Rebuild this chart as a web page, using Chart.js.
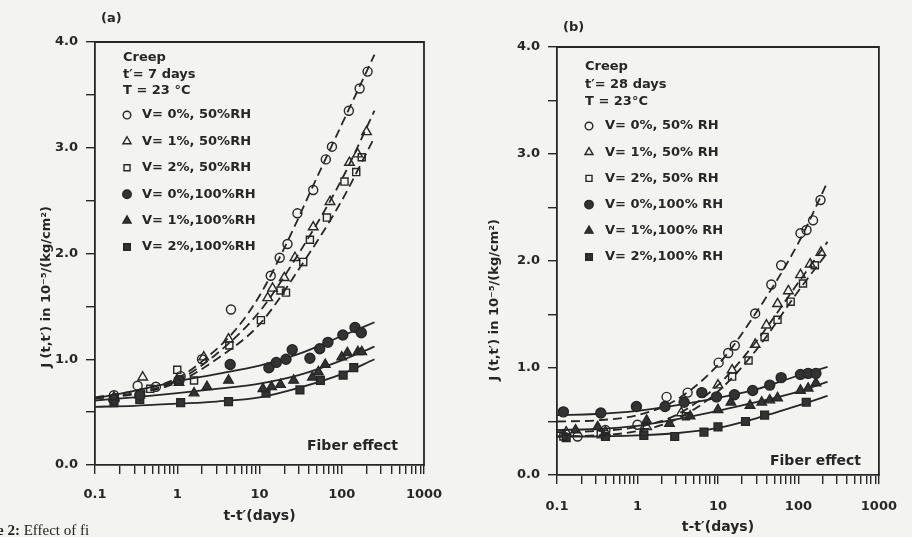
<!DOCTYPE html>
<html><head><meta charset="utf-8">
<script src="https://cdn.jsdelivr.net/npm/chart.js@4.4.1/dist/chart.umd.min.js"></script>
<style>
html,body{margin:0;padding:0;background:#f3f3f1;}
#wrap{position:relative;width:912px;height:537px;overflow:hidden;}
canvas{position:absolute;top:0;}
#ca{left:0}
#cb{left:456px}
.cap{position:absolute;left:-3px;top:522px;font:15px "Liberation Serif",serif;color:#222;white-space:nowrap}
</style></head><body>
<div id="wrap">
<canvas id="ca" width="456" height="537"></canvas>
<canvas id="cb" width="456" height="537"></canvas>
<div class="cap"><b>e 2:</b> Effect of fi</div>
</div>
<script>
// ---------- axis ticks ----------
const tickDecades = [0.1, 1, 10, 100, 1000];
const xTickLabels = ['0.1', '1', '10', '100', '1000'];
const xMinorMultipliers = [1, 2, 3, 4, 5, 6, 7, 8, 9];
const yTickLabels = ['0.0', '1.0', '2.0', '3.0', '4.0'];

// ---------- series labels ----------
const labelsA = ['V= 0%, 50%RH', 'V= 1%, 50%RH', 'V= 2%, 50%RH', 'V= 0%,100%RH', 'V= 1%,100%RH', 'V= 2%,100%RH'];
const labelsB = ['V= 0%, 50% RH', 'V= 1%, 50% RH', 'V= 2%, 50% RH', 'V= 0%,100% RH', 'V= 1%,100% RH', 'V= 2%,100% RH'];
const headerA = ['Creep', 't\u2032= 7 days', 'T = 23 \u00B0C'];
const headerB = ['Creep', 't\u2032= 28 days', 'T = 23\u00B0C'];

// ---------- panel (a): measured points [t-t' (days), J] ----------
const a_V0_50 = [[0.17,0.66],[0.33,0.75],[0.55,0.74],[1.1,0.84],[2.0,1.0],[4.5,1.47],[13.7,1.79],[17.6,1.96],[21.9,2.09],[28.9,2.38],[45,2.60],[64,2.89],[76,3.01],[122,3.35],[165,3.56],[206,3.72]];
const a_V1_50 = [[0.17,0.64],[0.38,0.83],[1.0,0.80],[2.1,1.02],[4.2,1.19],[12.6,1.58],[14.4,1.67],[20,1.77],[27,1.96],[45,2.25],[72,2.49],[124,2.86],[156,2.94],[200,3.15]];
const a_V2_50 = [[0.47,0.72],[1.0,0.90],[1.6,0.80],[4.3,1.13],[10.4,1.37],[18,1.65],[21,1.63],[34,1.92],[41,2.13],[66,2.34],[108,2.68],[150,2.77],[175,2.91]];
const a_V0_100 = [[0.17,0.62],[0.35,0.66],[1.05,0.80],[4.4,0.95],[13,0.92],[16,0.97],[21,1.00],[25,1.09],[41,1.01],[54,1.10],[68,1.16],[103,1.23],[145,1.30],[173,1.25]];
const a_V1_100 = [[0.17,0.63],[0.35,0.66],[1.05,0.78],[1.6,0.68],[2.3,0.74],[4.2,0.80],[11,0.72],[14,0.74],[18,0.76],[26,0.80],[44,0.83],[52,0.88],[63,0.95],[100,1.02],[117,1.06],[157,1.07],[175,1.07]];
const a_V2_100 = [[0.17,0.59],[0.35,0.62],[1.1,0.59],[4.2,0.60],[12,0.68],[31,0.71],[55,0.80],[104,0.85],[140,0.92]];
// panel (a): fitted curves
const a_fit_V0_50 = [[0.1,0.64],[0.3,0.70],[1,0.82],[2,0.98],[5,1.27],[10,1.6],[20,2.05],[50,2.72],[100,3.22],[250,3.88]];
const a_fit_V1_50 = [[0.1,0.63],[0.3,0.68],[1,0.8],[3,1.05],[10,1.45],[30,2.0],[100,2.7],[250,3.35]];
const a_fit_V2_50 = [[0.1,0.63],[0.3,0.67],[1,0.78],[3,1.0],[10,1.33],[30,1.85],[100,2.5],[250,3.1]];
const a_fit_V0_100 = [[0.1,0.63],[0.3,0.70],[1,0.79],[3,0.86],[10,0.94],[30,1.05],[100,1.22],[250,1.35]];
const a_fit_V1_100 = [[0.1,0.61],[0.3,0.64],[1,0.68],[3,0.72],[10,0.77],[30,0.85],[100,0.99],[250,1.12]];
const a_fit_V2_100 = [[0.1,0.55],[0.3,0.56],[1,0.58],[3,0.60],[10,0.64],[30,0.73],[100,0.86],[250,1.0]];

// ---------- panel (b): measured points ----------
const b_V0_50 = [[0.18,0.36],[0.4,0.42],[1.0,0.47],[2.3,0.73],[4.2,0.77],[10.2,1.05],[13.4,1.14],[16.2,1.21],[29,1.51],[46,1.78],[61,1.96],[106,2.26],[126,2.29],[152,2.38],[188,2.57]];
const b_V1_50 = [[0.13,0.40],[0.4,0.40],[1.3,0.45],[3.5,0.58],[10,0.84],[15,0.98],[29,1.22],[40,1.40],[55,1.60],[75,1.72],[106,1.87],[140,1.97],[190,2.08]];
const b_V2_50 = [[0.12,0.36],[0.35,0.38],[1.2,0.40],[4,0.55],[15,0.92],[24,1.07],[38,1.29],[55,1.45],[80,1.62],[114,1.79],[160,1.96]];
const b_V0_100 = [[0.12,0.59],[0.35,0.58],[0.97,0.64],[2.2,0.64],[3.8,0.68],[6.3,0.77],[9.6,0.73],[16,0.75],[27,0.79],[44,0.84],[61,0.91],[106,0.94],[132,0.95],[165,0.95]];
const b_V1_100 = [[0.17,0.42],[0.32,0.45],[1.3,0.51],[2.5,0.48],[4.5,0.55],[10,0.61],[14.5,0.68],[25,0.65],[35,0.68],[44,0.70],[55,0.72],[106,0.79],[132,0.81],[165,0.86]];
const b_V2_100 = [[0.13,0.35],[0.4,0.36],[1.2,0.37],[2.9,0.36],[6.7,0.40],[10,0.45],[22,0.50],[38,0.56],[125,0.68]];
// panel (b): fitted curves
const b_fit_V0_50 = [[0.1,0.50],[0.3,0.51],[1,0.56],[3,0.70],[10,1.03],[30,1.52],[100,2.17],[230,2.74]];
const b_fit_V1_50 = [[0.1,0.40],[0.3,0.41],[1,0.45],[3,0.56],[10,0.84],[30,1.25],[100,1.80],[230,2.18]];
const b_fit_V2_50 = [[0.1,0.36],[0.3,0.37],[1,0.41],[3,0.52],[10,0.78],[30,1.17],[100,1.72],[230,2.08]];
const b_fit_V0_100 = [[0.1,0.56],[0.3,0.57],[1,0.6],[3,0.65],[10,0.72],[30,0.8],[100,0.93],[230,1.01]];
const b_fit_V1_100 = [[0.1,0.42],[0.3,0.43],[1,0.46],[3,0.52],[10,0.6],[30,0.68],[100,0.78],[230,0.87]];
const b_fit_V2_100 = [[0.1,0.36],[0.3,0.36],[1,0.37],[3,0.39],[10,0.44],[30,0.53],[100,0.65],[230,0.74]];

// ---------- styling ----------
const INK = '#262626';
const FONT = '"DejaVu Sans", "Liberation Sans", sans-serif';
const markerStyles = ['circle', 'triangle', 'rect', 'circle', 'triangle', 'rect'];
const markerFilled = [false, false, false, true, true, true];
const markerRadius = [4.5, 5.5, 5, 5, 5.5, 5.5];
const lineDashed = [true, true, true, false, false, false];

const xTickValues = [];
tickDecades.forEach((d, i) => {
  if (i === tickDecades.length - 1) { xTickValues.push(d); return; }
  xMinorMultipliers.forEach(m => xTickValues.push(+(m * d).toPrecision(6)));
});

function pts(arr) { return arr.map(([x, y]) => ({x, y})); }

function buildDatasets(labels, points, fits) {
  const ds = [];
  points.forEach((p, i) => {
    ds.push({
      label: labels[i], data: pts(p), showLine: false,
      pointStyle: markerStyles[i], pointRadius: markerRadius[i],
      pointBackgroundColor: markerFilled[i] ? '#333' : 'rgba(0,0,0,0)',
      pointBorderColor: INK, pointBorderWidth: 1.4
    });
  });
  fits.forEach((f, i) => {
    ds.push({
      label: labels[i] + ' fit', data: pts(f), showLine: true, pointRadius: 0,
      borderColor: INK, borderWidth: 1.8, borderDash: lineDashed[i] ? [9, 5] : [],
      cubicInterpolationMode: 'monotone', fill: false
    });
  });
  return ds;
}

const panelDecor = {
  id: 'panelDecor',
  afterDraw(chart, args, o) {
    const {ctx, chartArea: ca} = chart;
    ctx.save();
    ctx.strokeStyle = INK; ctx.lineWidth = 1.8;
    ctx.beginPath();
    ctx.moveTo(ca.left - 1, ca.top); ctx.lineTo(ca.right, ca.top); ctx.lineTo(ca.right, ca.bottom + 1);
    ctx.stroke();
    ctx.fillStyle = INK; ctx.textBaseline = 'middle';
    o.texts.forEach(t => {
      ctx.font = t.font;
      if (t.rotate) {
        ctx.save(); ctx.translate(t.x, t.y); ctx.rotate(-Math.PI / 2);
        ctx.textAlign = 'center'; ctx.fillText(t.text, 0, 0); ctx.restore();
      } else { ctx.textAlign = 'left'; ctx.fillText(t.text, t.x, t.y); }
    });
    const L = o.legend;
    ctx.font = L.font; ctx.textAlign = 'left';
    L.header.forEach((h, i) => ctx.fillText(h, L.headerX, L.headerY + i * L.headerStep));
    chart.data.datasets.filter(d => d.showLine === false).forEach((d, i) => {
      const y = L.rowY + i * L.rowStep;
      ctx.fillStyle = d.pointBackgroundColor; ctx.strokeStyle = d.pointBorderColor; ctx.lineWidth = d.pointBorderWidth;
      Chart.helpers.drawPoint(ctx, {pointStyle: d.pointStyle, radius: d.pointRadius * 0.85, rotation: 0, borderWidth: d.pointBorderWidth}, L.markX, y);
      ctx.fillStyle = INK;
      ctx.fillText(d.label, L.textX, y);
    });
    ctx.restore();
  }
};

function makeChart(id, p) {
  return new Chart(document.getElementById(id), {
    type: 'scatter',
    data: {datasets: buildDatasets(p.labels, p.points, p.fits)},
    plugins: [panelDecor],
    options: {
      responsive: false, animation: false, events: [], devicePixelRatio: 1,
      layout: {padding: p.padding},
      plugins: {legend: {display: false}, tooltip: {enabled: false}, panelDecor: p.decor},
      scales: {
        x: {
          type: 'logarithmic', min: 0.1, max: 1000,
          afterBuildTicks: s => { s.ticks = xTickValues.map(v => ({value: v})); },
          afterFit: s => { s.height = p.xH; },
          ticks: {
            autoSkip: false, maxRotation: 0, minRotation: 0, padding: p.xPad, color: INK,
            font: {family: FONT, weight: 'bold', size: 13},
            callback: v => { const k = tickDecades.indexOf(v); return k >= 0 ? xTickLabels[k] : ''; }
          },
          grid: {drawOnChartArea: false, drawTicks: true, tickLength: 9, color: INK, lineWidth: 1.4},
          border: {display: true, color: INK, width: 1.8},
          title: {display: true, text: 't-t\u2032(days)', color: INK, font: {family: FONT, weight: 'bold', size: 14}, padding: {top: 0, bottom: 0}}
        },
        y: {
          type: 'linear', min: 0, max: 4,
          afterFit: s => { s.width = p.yW; },
          ticks: {
            stepSize: 0.5, padding: 8, color: INK,
            font: {family: FONT, weight: 'bold', size: 13},
            callback: v => Number.isInteger(v) ? yTickLabels[v] : ''
          },
          grid: {drawOnChartArea: false, drawTicks: true, tickLength: 9, color: INK, lineWidth: 1.4},
          border: {display: true, color: INK, width: 1.8}
        }
      }
    }
  });
}

const YTITLE = 'J (t,t\u2032) in 10\u207B\u2075/(kg/cm\u00B2)';
const BOLD13 = 'bold 13px ' + FONT;
const BOLD14 = 'bold 14px ' + FONT;

makeChart('ca', {
  labels: labelsA,
  points: [a_V0_50, a_V1_50, a_V2_50, a_V0_100, a_V1_100, a_V2_100],
  fits: [a_fit_V0_50, a_fit_V1_50, a_fit_V2_50, a_fit_V0_100, a_fit_V1_100, a_fit_V2_100],
  padding: {left: 0, right: 32, top: 42, bottom: 12},
  xH: 60, yW: 95, xPad: 13,
  decor: {
    texts: [
      {text: '(a)', x: 101, y: 19, font: BOLD13},
      {text: 'Fiber effect', x: 307, y: 446, font: BOLD14},
      {text: YTITLE, x: 47, y: 287, font: BOLD13, rotate: true}
    ],
    legend: {font: BOLD13, header: headerA, headerX: 123, headerY: 58, headerStep: 16.5,
             rowY: 115, rowStep: 26.4, markX: 127, textX: 142}
  }
});

makeChart('cb', {
  labels: labelsB,
  points: [b_V0_50, b_V1_50, b_V2_50, b_V0_100, b_V1_100, b_V2_100],
  fits: [b_fit_V0_50, b_fit_V1_50, b_fit_V2_50, b_fit_V0_100, b_fit_V1_100, b_fit_V2_100],
  padding: {left: 0, right: 24, top: 47, bottom: 1},
  xH: 61, yW: 101, xPad: 15,
  decor: {
    texts: [
      {text: '(b)', x: 107, y: 28, font: BOLD13},
      {text: 'Fiber effect', x: 314, y: 461, font: BOLD14},
      {text: YTITLE, x: 39, y: 300, font: BOLD13, rotate: true}
    ],
    legend: {font: BOLD13, header: headerB, headerX: 129, headerY: 67, headerStep: 17.5,
             rowY: 126, rowStep: 26.2, markX: 133, textX: 149}
  }
});
</script>
</body></html>
